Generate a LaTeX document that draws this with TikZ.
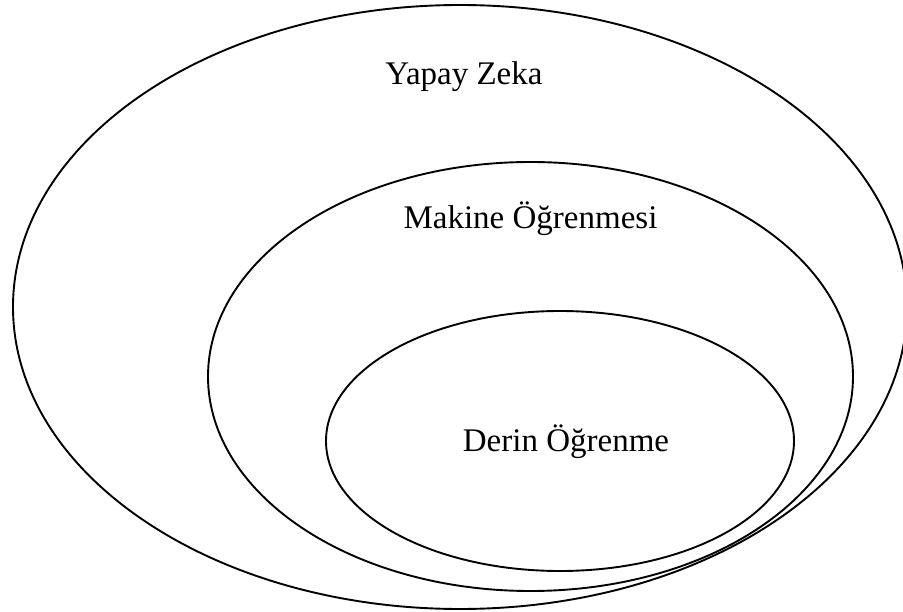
\documentclass[tikz,border=0pt]{standalone}
\usepackage{fontspec}
\setmainfont{Liberation Serif}
\begin{document}
\begin{tikzpicture}[x=1pt,y=-1pt,
  ring/.style={draw=black,line width=1.9pt},
  label/.style={anchor=base,inner sep=0pt,font=\fontsize{33}{40}\selectfont}]
  \useasboundingbox (0,0) rectangle (903,612);
  \clip (0,0) rectangle (903,612);
  % nested sets
  \draw[ring] (460,307) ellipse [x radius=447, y radius=302];
  \draw[ring] (530.5,376.5) ellipse [x radius=322.5, y radius=214.5];
  \draw[ring] (560,441) ellipse [x radius=234, y radius=130];
  % set names
  \node[label] (ai) at (464,85) {Yapay Zeka};
  \node[label] (ml) at (530.5,229) {Makine Öğrenmesi};
  \node[label] (dl) at (566,452) {Derin Öğrenme};
\end{tikzpicture}
\end{document}
